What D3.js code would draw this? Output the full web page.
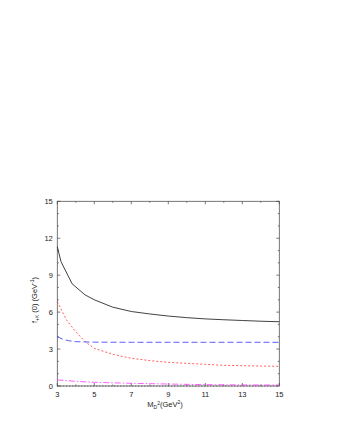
<!DOCTYPE html>
<html>
<head>
<meta charset="utf-8">
<script src="https://cdn.jsdelivr.net/npm/d3@7"></script>
<style>
  body { margin: 0; background: #fff; }
  text { font-family: "Liberation Sans", Arial, sans-serif; fill: #222; }
</style>
</head>
<body>
<svg width="337" height="436"></svg>
<script>
// values
const blackX = [3, 3.2, 3.8, 4.5, 5, 6, 7, 8, 9, 10, 11, 12, 13, 14, 15];
const blackY = [11.3, 10.1, 8.3, 7.4, 7.0, 6.4, 6.05, 5.85, 5.68, 5.55, 5.45, 5.38, 5.32, 5.26, 5.22];

const redX = [3, 3.5, 4, 4.5, 5, 6, 7, 8, 9, 10, 11, 12, 13, 14, 15];
const redY = [6.85, 5.36, 4.4, 3.6, 3.06, 2.57, 2.25, 2.06, 1.92, 1.84, 1.76, 1.68, 1.65, 1.62, 1.6];

const blueX = [3, 3.3, 3.6, 4, 5, 7, 9, 11, 13, 15];
const blueY = [4.0, 3.8, 3.68, 3.6, 3.56, 3.55, 3.55, 3.55, 3.55, 3.55];

const magX = [3, 4, 5, 7, 9, 11, 13, 15];
const magY = [0.49, 0.38, 0.3, 0.22, 0.16, 0.11, 0.09, 0.08];

const xTicks = [3, 5, 7, 9, 11, 13, 15];
const yTicks = [0, 3, 6, 9, 12, 15];

const svg = d3.select("svg");
const plot = { left: 57.3, right: 279.3, top: 201.3, bottom: 386 };

const x = d3.scaleLinear().domain([3, 15]).range([plot.left, plot.right]);
const y = d3.scaleLinear().domain([0, 15]).range([plot.bottom, plot.top]);

// zero axis, dotted
svg.append("line")
  .attr("x1", x(3)).attr("x2", x(15)).attr("y1", y(0)).attr("y2", y(0))
  .attr("stroke", "#000").attr("stroke-width", 0.8).attr("stroke-dasharray", "1,2");

// frame
svg.append("rect")
  .attr("x", plot.left).attr("y", plot.top)
  .attr("width", plot.right - plot.left).attr("height", plot.bottom - plot.top)
  .attr("fill", "none").attr("stroke", "#555").attr("stroke-width", 0.8);

// inward ticks on all sides, gnuplot style
const tickG = svg.append("g").attr("stroke", "#444").attr("stroke-width", 0.7);
d3.range(3, 15.01, 1).forEach(v => {
  const len = (v - 3) % 2 === 0 ? 3 : 1.5;
  tickG.append("line").attr("x1", x(v)).attr("x2", x(v)).attr("y1", plot.bottom).attr("y2", plot.bottom - len);
  tickG.append("line").attr("x1", x(v)).attr("x2", x(v)).attr("y1", plot.top).attr("y2", plot.top + len);
});
d3.range(0, 15.01, 1).forEach(v => {
  const len = v % 3 === 0 ? 3 : 1.5;
  tickG.append("line").attr("y1", y(v)).attr("y2", y(v)).attr("x1", plot.left).attr("x2", plot.left + len);
  tickG.append("line").attr("y1", y(v)).attr("y2", y(v)).attr("x1", plot.right).attr("x2", plot.right - len);
});

// tick labels
svg.append("g").selectAll("text").data(xTicks).enter().append("text")
  .attr("x", d => x(d)).attr("y", plot.bottom + 10.5)
  .attr("text-anchor", "middle").attr("font-size", 7.5).text(d => d);
svg.append("g").selectAll("text").data(yTicks).enter().append("text")
  .attr("x", plot.left - 4.5).attr("y", d => y(d) + 2.7)
  .attr("text-anchor", "end").attr("font-size", 7.5).text(d => d);

// axis titles
const xt = svg.append("text").attr("x", 165).attr("y", 407).attr("text-anchor", "middle").attr("font-size", 7.5);
xt.append("tspan").text("M");
xt.append("tspan").attr("font-size", 5).attr("dy", 1.5).text("D");
xt.append("tspan").attr("font-size", 5).attr("dy", -4).text("2");
xt.append("tspan").attr("dy", 2.5).text("(GeV");
xt.append("tspan").attr("font-size", 5).attr("dy", -3).text("2");
xt.append("tspan").attr("dy", 3).text(")");

const yt = svg.append("text").attr("transform", "translate(37,300) rotate(-90)")
  .attr("text-anchor", "middle").attr("font-size", 7.5);
yt.append("tspan").text("f");
yt.append("tspan").attr("font-size", 5).attr("dy", 1.5).text("+K");
yt.append("tspan").attr("dy", -1.5).text(" (0) (GeV");
yt.append("tspan").attr("font-size", 5).attr("dy", -3).text("-1");
yt.append("tspan").attr("dy", 3).text(")");

// curves
const line = d3.line().x(d => x(d[0])).y(d => y(d[1]));
const series = [
  { xs: blackX, ys: blackY, color: "#111", dash: null },
  { xs: redX, ys: redY, color: "#f33", dash: "2,2" },
  { xs: blueX, ys: blueY, color: "#33f", dash: "6,3" },
  { xs: magX, ys: magY, color: "#f3f", dash: "6,2,1.5,2" }
];
series.forEach(s => {
  svg.append("path")
    .datum(s.xs.map((v, i) => [v, s.ys[i]]))
    .attr("d", line)
    .attr("fill", "none")
    .attr("stroke", s.color)
    .attr("stroke-width", 0.8)
    .attr("stroke-dasharray", s.dash);
});
</script>
</body>
</html>
